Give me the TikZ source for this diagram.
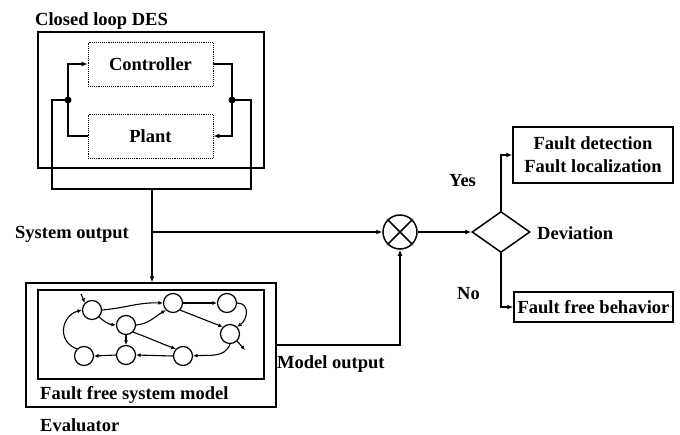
\documentclass[tikz,border=0pt]{standalone}
\usepackage{fontspec}
\setmainfont{Liberation Serif}
\usetikzlibrary{shapes.geometric,arrows.meta}
\begin{document}
\begin{tikzpicture}[x=1pt,y=-1pt,
  lbl/.style={font=\bfseries\fontsize{18.5}{22}\selectfont, inner sep=0pt, anchor=base west},
  frame/.style={draw, line width=1.5pt, inner sep=0pt},
  subbox/.style={draw, densely dotted, line width=0.9pt, inner sep=0pt, minimum width=125pt, minimum height=44pt, font=\bfseries\fontsize{18.5}{22}\selectfont},
  conn/.style={line width=1.5pt, -{Latex[length=6pt,width=5pt]}},
  wire/.style={line width=1.5pt},
  st/.style={draw, circle, line width=1.2pt, minimum size=19pt, inner sep=0pt},
  tr/.style={line width=1.1pt, -{Latex[length=4.5pt,width=4pt]}},
  dot/.style={circle, fill, inner sep=0pt, minimum size=7pt},
]
\useasboundingbox (0,0) rectangle (680,434);

% closed loop
\node[frame, minimum width=226pt, minimum height=136pt] (cl) at (151,100) {};
\node[lbl] (cltitle) at (35,25) {Closed loop DES};
\node[subbox] (ctrl) at (150.5,64) {Controller};
\node[subbox] (plant) at (150.5,136) {Plant};
\node[dot] (dl) at (68,100) {};
\node[dot] (dr) at (232,100) {};
\draw[conn] (plant.west) -| (dl.center) |- (ctrl.west);
\draw[conn] (ctrl.east) -| (dr.center) |- (plant.east);
\coordinate (ol) at (52,189);
\coordinate (or) at (251,189);
\coordinate (jo) at (152,189);
\coordinate (js) at (152,232);
\draw[wire] (dl.center) -| (ol) -- (or) |- (dr.center);

% evaluator
\node[frame, minimum width=250pt, minimum height=124pt] (ev) at (151,345) {};
\node[frame, minimum width=226pt, minimum height=89pt] (model) at (151,334.5) {};
\node[lbl] (modeltxt) at (40,399) {Fault free system model};
\node[lbl] (evtxt) at (40,431) {Evaluator};
\draw[conn] (jo) -- (jo |- ev.north);
\node[lbl] (sotxt) at (15,238) {System output};

% graph
\node[st] (n1) at (92,310) {};
\node[st] (n2) at (173,303) {};
\node[st] (n3) at (227,303) {};
\node[st] (n4) at (126,325) {};
\node[st] (n5) at (230,334) {};
\node[st] (n6) at (84,356) {};
\node[st] (n7) at (126,355) {};
\node[st] (n8) at (183,356) {};
\coordinate (n1in) at (81,294);
\coordinate (n5out) at (245,350);
\draw[tr] (n1in) -- (n1.north west);
\draw[tr] (n1.east) to[out=5,in=178] (n2.west);
\draw[tr] (n2.east) -- (n3.west);
\draw[tr] (n1.south east) to[out=-40,in=175] (n4.west);
\draw[tr] (n4.east) to[out=5,in=-150] (n2.south west);
\draw[tr] (n2.south east) -- (n5.north west);
\draw[tr] (n3.east) to[out=0,in=35,looseness=1.4] (n5.north east);
\draw[tr] (n4.south east) to[out=-20,in=160] (n8.north west);
\draw[tr] (n4.south) -- (n7.north);
\draw[tr] (n8.west) -- (n7.east);
\draw[tr] (n7.west) -- (n6.east);
\draw[tr] (n6.north west) to[out=160,in=195,looseness=1.4] (n1.west);
\draw[tr] (n5.south) to[out=-110,in=5] (n8.east);
\draw[tr] (n5.south east) -- (n5out);

% multiplier
\node[draw, circle, line width=1.5pt, minimum size=34pt, inner sep=0pt] (mx) at (400,232) {};
\draw[line width=1.5pt] (mx.north west) -- (mx.south east);
\draw[line width=1.5pt] (mx.north east) -- (mx.south west);
\draw[conn] (js) -- (mx.west);
\draw[conn] (ev.east) -| (mx.south);
\node[lbl] (motxt) at (277,368) {Model output};

% decision
\node[diamond, draw, line width=1.5pt, minimum width=58pt, minimum height=41pt, inner sep=0pt, aspect=1.4] (dm) at (501,232) {};
\draw[conn] (mx.east) -- (dm.west);
\node[lbl] (devtxt) at (537,239) {Deviation};
\node[frame, minimum width=160pt, minimum height=56pt, align=center, font=\bfseries\fontsize{18.5}{23}\selectfont] (fd) at (593,155) {Fault detection\\Fault localization};
\node[frame, minimum width=159pt, minimum height=30pt, font=\bfseries\fontsize{18.5}{22}\selectfont] (ff) at (593.5,307) {Fault free behavior};
\draw[conn] (dm.north) |- (fd.west);
\draw[conn] (dm.south) |- (ff.west);
\node[lbl] (yestxt) at (449,186) {Yes};
\node[lbl] (notxt) at (457,299) {No};
\end{tikzpicture}
\end{document}
